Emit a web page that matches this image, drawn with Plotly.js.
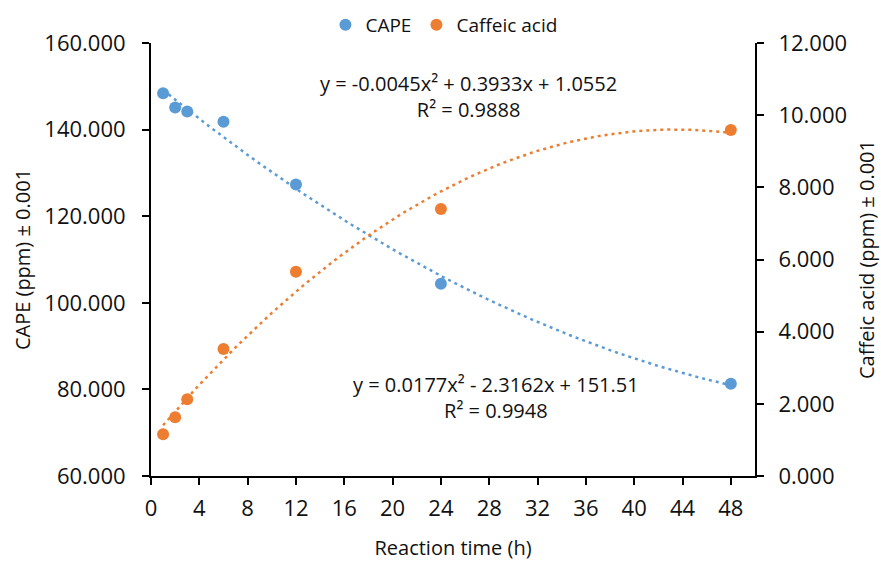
<!DOCTYPE html>
<html>
<head>
<meta charset="utf-8">
<script src="https://cdn.plot.ly/plotly-3.0.1.min.js"></script>
<style>html,body{margin:0;padding:0;background:#fff;}#chart{width:881px;height:564px;}</style>
</head>
<body>
<div id="chart"></div>
<script>
// Data
const hours = [1, 2, 3, 6, 12, 24, 48];
const cape = [148.4, 145.1, 144.2, 141.8, 127.3, 104.4, 81.3];
const caffeic = [1.16, 1.63, 2.13, 3.52, 5.66, 7.40, 9.59];
const xTicks = [0, 4, 8, 12, 16, 20, 24, 28, 32, 36, 40, 44, 48];
const seriesNames = ['CAPE', 'Caffeic acid'];
const eqCaffeic = 'y = -0.0045x² + 0.3933x + 1.0552<br>R² = 0.9888';
const eqCape = 'y = 0.0177x² - 2.3162x + 151.51<br>R² = 0.9948';

// Quadratic least-squares trendline computed from the data
function polyfit2(xs, ys) {
  let S = [0,0,0,0,0], T = [0,0,0];
  for (let i = 0; i < xs.length; i++) {
    let p = 1;
    for (let k = 0; k < 5; k++) { S[k] += p; if (k < 3) T[k] += p * ys[i]; p *= xs[i]; }
  }
  const A = [[S[0],S[1],S[2],T[0]],[S[1],S[2],S[3],T[1]],[S[2],S[3],S[4],T[2]]];
  for (let c = 0; c < 3; c++) {
    for (let r = c + 1; r < 3; r++) {
      const f = A[r][c] / A[c][c];
      for (let k = c; k < 4; k++) A[r][k] -= f * A[c][k];
    }
  }
  const b = [0,0,0];
  for (let r = 2; r >= 0; r--) {
    let s = A[r][3];
    for (let k = r + 1; k < 3; k++) s -= A[r][k] * b[k];
    b[r] = s / A[r][r];
  }
  return b; // c0 + c1 x + c2 x^2
}
function trend(xs, ys) {
  const c = polyfit2(xs, ys);
  const x0 = Math.min(...xs), x1 = Math.max(...xs);
  const tx = [], ty = [];
  const n = 120;
  for (let i = 0; i <= n; i++) {
    const x = x0 + (x1 - x0) * i / n;
    tx.push(x); ty.push(c[0] + c[1] * x + c[2] * x * x);
  }
  return {x: tx, y: ty};
}

const blue = '#5B9BD5', orange = '#ED7D31';
const font = 'Open Sans, Lato, DejaVu Sans, sans-serif';
const tCape = trend(hours, cape), tCaf = trend(hours, caffeic);

const traces = [
  {x: tCape.x, y: tCape.y, mode: 'lines', line: {color: blue, width: 2.5, dash: '3px,4px'}, showlegend: false, hoverinfo: 'skip', yaxis: 'y'},
  {x: tCaf.x, y: tCaf.y, mode: 'lines', line: {color: orange, width: 2.5, dash: '3px,4px'}, showlegend: false, hoverinfo: 'skip', yaxis: 'y2'},
  {x: hours, y: cape, name: seriesNames[0], mode: 'markers', marker: {color: blue, size: 12}, yaxis: 'y'},
  {x: hours, y: caffeic, name: seriesNames[1], mode: 'markers', marker: {color: orange, size: 12}, yaxis: 'y2'}
];

const axisCommon = {
  showgrid: false, zeroline: false, showline: true, linecolor: '#000', linewidth: 2,
  ticks: 'outside', ticklen: 7, tickwidth: 2, tickcolor: '#000',
  tickfont: {family: font, size: 22, color: '#111'}
};

const layout = {
  width: 881, height: 564,
  margin: {l: 151, r: 126, t: 43, b: 88, autoexpand: false},
  paper_bgcolor: '#fff', plot_bgcolor: '#fff',
  font: {family: font, color: '#111'},
  showlegend: true,
  legend: {orientation: 'h', xref: 'paper', x: 0.485, xanchor: 'center',
           yref: 'container', y: 0.956, yanchor: 'middle',
           font: {family: font, size: 19, color: '#111'}, itemwidth: 30},
  xaxis: Object.assign({}, axisCommon, {
    range: [0, 50], tickmode: 'array', tickvals: xTicks, ticktext: xTicks.map(String),
    ticklabelstandoff: 5,
    title: {text: 'Reaction time (h)', font: {family: font, size: 20, color: '#111'}, standoff: 20}
  }),
  yaxis: Object.assign({}, axisCommon, {
    range: [60, 160], dtick: 20, tick0: 60, tickformat: '.3f',
    ticklabelstandoff: 12,
    title: {text: 'CAPE (ppm) ± 0.001', font: {family: font, size: 20, color: '#111'}, standoff: 8}
  }),
  yaxis2: Object.assign({}, axisCommon, {
    overlaying: 'y', side: 'right', anchor: 'x',
    range: [0, 12], dtick: 2, tick0: 0, tickformat: '.3f',
    ticklabelstandoff: 10,
    title: {text: 'Caffeic acid (ppm) ± 0.001', font: {family: font, size: 20, color: '#111'}, standoff: 14}
  }),
  annotations: [
    {xref: 'paper', yref: 'paper', x: 0.525, y: 0.877, text: eqCaffeic, showarrow: false,
     xanchor: 'center', yanchor: 'middle', align: 'center', font: {family: font, size: 20, color: '#111'}},
    {xref: 'paper', yref: 'paper', x: 0.571, y: 0.182, text: eqCape, showarrow: false,
     xanchor: 'center', yanchor: 'middle', align: 'center', font: {family: font, size: 20, color: '#111'}}
  ]
};

Plotly.newPlot('chart', traces, layout, {displayModeBar: false, staticPlot: true});
</script>
</body>
</html>
